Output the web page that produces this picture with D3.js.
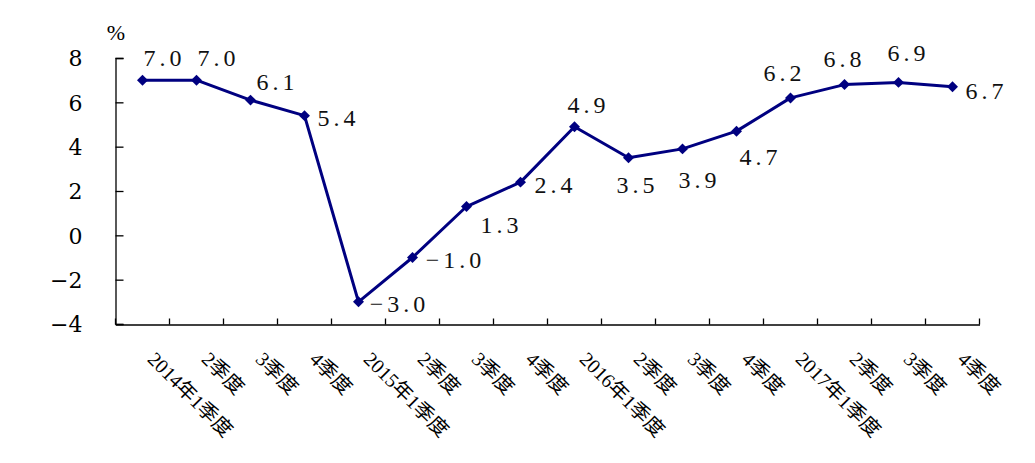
<!DOCTYPE html>
<html>
<head>
<meta charset="utf-8">
<script src="https://cdn.jsdelivr.net/npm/d3@7"></script>
<style>
  html, body { margin: 0; padding: 0; background: #fff; }
  svg { display: block; }
</style>
</head>
<body>
<svg id="chart" width="1035" height="463"></svg>
<script>
// ---- data ----
const categories = ["2014年1季度","2季度","3季度","4季度","2015年1季度","2季度","3季度","4季度",
                    "2016年1季度","2季度","3季度","4季度","2017年1季度","2季度","3季度","4季度"];
const values = [7.0, 7.0, 6.1, 5.4, -3.0, -1.0, 1.3, 2.4, 4.9, 3.5, 3.9, 4.7, 6.2, 6.8, 6.9, 6.7];
const yTicks = [-4, -2, 0, 2, 4, 6, 8];
const unitLabel = "%";
// label placement (layout only): [dx, dy] of label centre/baseline from point
const labelOffsets = [[20,-14],[20,-14],[25,-10],[32,10],[39,10],[41,10],[33,26],[33,11],
                      [12,-14],[7,35],[15,39],[22,34],[-8,-17],[-2,-18],[8,-21],[32,12]];

const svg = d3.select("#chart");
const color = "#000080";

const x = d3.scaleBand().domain(d3.range(categories.length)).range([115.5, 979.5]).padding(0);
const y = d3.scaleLinear().domain([-4, 8]).range([324, 58]);

// y axis
const yAxis = d3.axisLeft(y).tickValues(yTicks).tickSize(-8).tickPadding(0)
  .tickFormat(d => String(d).replace("-", "\u2212"));
const gy = svg.append("g").attr("transform", "translate(115.5,0)").call(yAxis);
gy.select(".domain").attr("stroke", "#000").attr("stroke-width", 1.3);
gy.selectAll(".tick line").attr("stroke", "#000").attr("stroke-width", 1.3);
gy.selectAll(".tick text")
  .attr("x", -33).attr("dy", "0.35em")
  .attr("fill", "#000")
  .style("font-family", "'DejaVu Serif', serif")
  .style("font-size", "22px");

// x axis
const xAxis = d3.axisBottom(x).tickSize(0).tickFormat(i => categories[i]);
const gx = svg.append("g").attr("transform", "translate(0,324.5)").call(xAxis);
gx.select(".domain").attr("stroke", "#000").attr("stroke-width", 1.3);
gx.selectAll(".tick text")
  .attr("text-anchor", "start")
  .attr("x", 0).attr("y", 0).attr("dy", 0)
  .attr("transform", "translate(4,36) rotate(45)")
  .attr("fill", "#000")
  .style("font-family", "'Liberation Serif', 'Noto Sans CJK SC', serif")
  .style("font-size", "20px");
// category boundary tick marks (inside)
const bounds = d3.range(categories.length + 1).map(i => i === categories.length ? x.range()[1] : x(i));
gx.selectAll("line.bound").data(bounds).enter().append("line")
  .attr("class", "bound")
  .attr("x1", d => d).attr("x2", d => d)
  .attr("y1", 0).attr("y2", -6)
  .attr("stroke", "#000").attr("stroke-width", 1.3);

// unit label
svg.append("text").attr("x", 116).attr("y", 40).attr("text-anchor", "middle")
  .style("font-family", "'Liberation Serif', serif").style("font-size", "22px")
  .text(unitLabel);

// line
const cx = i => x(i) + x.bandwidth() / 2;
const line = d3.line().x((d, i) => cx(i)).y(d => y(d));
svg.append("path").datum(values)
  .attr("d", line).attr("fill", "none")
  .attr("stroke", color).attr("stroke-width", 3).attr("stroke-linejoin", "round");

// markers
svg.selectAll("path.marker").data(values).enter().append("path")
  .attr("class", "marker")
  .attr("d", d3.symbol().type(d3.symbolSquare).size(60))
  .attr("transform", (d, i) => `translate(${cx(i)},${y(d)}) rotate(45)`)
  .attr("fill", color);

// data labels
svg.selectAll("text.lbl").data(values).enter().append("text")
  .attr("class", "lbl")
  .attr("x", (d, i) => cx(i) + labelOffsets[i][0] + 2)
  .attr("y", (d, i) => y(d) + labelOffsets[i][1])
  .attr("text-anchor", "middle")
  .style("font-family", "'Liberation Serif', serif")
  .style("font-size", "24px")
  .style("letter-spacing", "4px")
  .attr("fill", "#111")
  .text(d => d.toFixed(1).replace("-", "\u2212"));
</script>
</body>
</html>
